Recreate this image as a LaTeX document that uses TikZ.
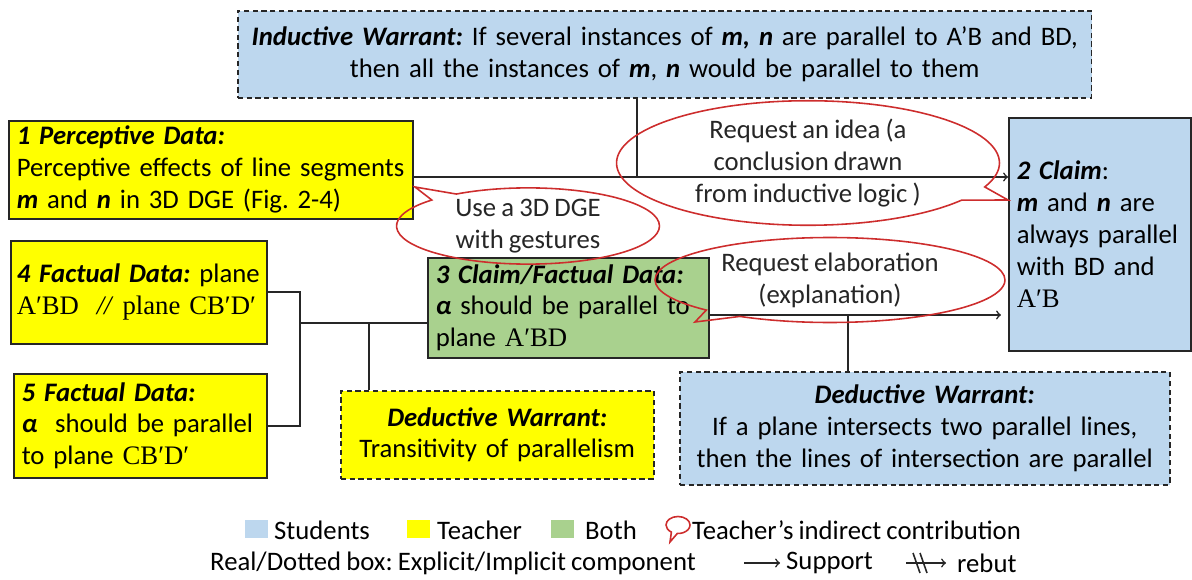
\documentclass[tikz,border=0pt]{standalone}
\usepackage{fontspec}
\setmainfont{Carlito}[WordSpace=0.85]
\newfontfamily\geofont{Liberation Serif}
\usetikzlibrary{shapes.callouts}

\definecolor{stublue}{RGB}{189,215,238}
\definecolor{teachyellow}{RGB}{255,255,0}
\definecolor{bothgreen}{RGB}{169,209,142}
\definecolor{callred}{RGB}{205,45,45}
\newcommand{\geo}[1]{{\geofont #1}}
\newcommand{\bi}[1]{\textbf{\textit{#1}}}
\frenchspacing

\tikzset{
  box/.style={draw=black!85, line width=0.9pt, inner xsep=0.16cm, inner ysep=0pt, align=left, anchor=north west},
  implicit/.style={box, dash pattern=on 3pt off 2pt, align=center},
  bubble/.style={ellipse callout, draw=callred, line width=0.9pt, align=center, text=black!85, inner sep=0pt, callout pointer arc=14},
  link/.style={line width=0.9pt, draw=black!85},
  support/.style={link, ->},
  swatch/.style={minimum width=0.46cm, minimum height=0.36cm, inner sep=0pt}
}

\begin{document}
\begin{tikzpicture}[x=0.02cm, y=-0.02cm, font=\fontsize{15.2pt}{18.2pt}\selectfont]
\useasboundingbox (0,0) rectangle (1192,580);

% boxes
\node[implicit, fill=stublue, text width=16.76cm, minimum height=1.74cm] (iw) at (237,10)
  {\bi{Inductive Warrant:} If several instances of \bi{m, n} are parallel to A’B and BD,\\
   then all the instances of \bi{m}, \bi{n} would be parallel to them};
\node[box, fill=teachyellow, text width=7.76cm, minimum height=1.96cm] (p1) at (8,120)
  {\bi{1 Perceptive Data:}\\ Perceptive effects of line segments\\ \bi{m} and \bi{n} in 3D DGE (Fig. 2-4)};
\node[box, fill=stublue, text width=3.32cm, minimum height=4.66cm] (c2) at (1008,117)
  {\bi{2 Claim}:\\ \bi{m} and \bi{n} are\\ always parallel\\ with BD and\\ \geo{A′B}};
\node[box, fill=teachyellow, inner xsep=0.12cm, text width=4.88cm, minimum height=2.06cm] (p4) at (10,240)
  {\bi{4 Factual Data:} plane\\ \geo{A′BD \ \textit{//} plane CB′D′}};
\node[box, fill=teachyellow, text width=4.74cm, minimum height=2.08cm] (p5) at (13,373)
  {\bi{5 Factual Data:}\\ \bi{α}\ \ should be parallel\\ to plane \geo{CB′D′}};
\node[box, fill=bothgreen, text width=5.30cm, minimum height=2.0cm] (c3) at (427,257)
  {\bi{3 Claim/Factual Data:}\\ \bi{α} should be parallel to\\ plane \geo{A′BD}};
\node[implicit, fill=teachyellow, text width=5.94cm, minimum height=1.76cm] (dw1) at (340,390)
  {\bi{Deductive Warrant:}\\ Transitivity of parallelism};
\node[implicit, fill=stublue, text width=9.48cm, minimum height=2.26cm] (dw2) at (679,371)
  {\bi{Deductive Warrant:}\\ If a plane intersects two parallel lines,\\ then the lines of intersection are parallel};

% junctions
\coordinate (j1) at (637,177);
\coordinate (j2) at (300,323);
\coordinate (j3) at (369,323);
\coordinate (j4) at (848,315);

% connectors
\draw[link] (iw.south -| j1) -- (j1);
\draw[support] (p1.east |- j1) -- (j1 -| c2.west);
\draw[link] (p4.east) -| (j2) |- (p5.east);
\draw[link] (j2) -- (j2 -| c3.west);
\draw[link] (j3) -- (j3 |- dw1.north);
\draw[support, shorten >=4pt] (c3.east |- j4) -- (j4 -| c2.west);
\draw[link] (j4) -- (j4 |- dw2.north);

% teacher's indirect contributions
\coordinate (t1) at (415,187);
\coordinate (t2) at (1008,200);
\coordinate (t3) at (695,322);
\node[bubble, minimum width=5.26cm, minimum height=1.30cm, callout absolute pointer={(t1)}] (b1) at (528,226)
  {Use a 3D DGE\\ with gestures};
\node[bubble, minimum width=7.66cm, minimum height=2.06cm, callout absolute pointer={(t2)}] (b2) at (808,163)
  {Request an idea (a\\ conclusion drawn\\ from inductive logic )};
\node[bubble, minimum width=7.00cm, minimum height=1.70cm, callout absolute pointer={(t3)}] (b3) at (830,280)
  {Request elaboration\\ (explanation)};

% legend
\node[swatch, fill=stublue] (s1) at (256,529) {};
\node[anchor=west] (l1) at (268,530) {Students};
\node[swatch, fill=teachyellow] (s2) at (418,529) {};
\node[anchor=west] (l2) at (431,530) {Teacher};
\node[swatch, fill=bothgreen] (s3) at (562,529) {};
\node[anchor=west] (l3) at (579,530) {Both};
\coordinate (t4) at (670,542);
\node[ellipse callout, draw=callred, line width=0.9pt, minimum width=0.48cm, minimum height=0.34cm,
  callout absolute pointer={(t4)}, callout pointer arc=30] (s4) at (678,525) {};
\node[anchor=west, inner sep=1pt] (l4) at (690,530) {Teacher’s indirect contribution};
\node[anchor=west] (l5) at (204,563) {Real/Dotted box: Explicit/Implicit component};
\node[anchor=west] (l6) at (780,563) {Support};
\node[anchor=west] (l7) at (951,563) {rebut};
\draw[support] ([xshift=-0.72cm]l6.west) -- (l6.west);
\draw[support] ([xshift=-0.9cm]l7.west) -- ([xshift=-0.1cm]l7.west);
\draw[link] (913,553) -- (920,573);
\draw[link] (920,553) -- (927,573);
\end{tikzpicture}
\end{document}
